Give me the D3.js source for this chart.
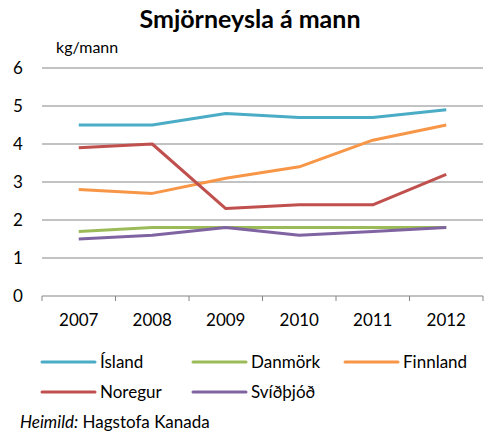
<!DOCTYPE html>
<html>
<head>
<meta charset="utf-8">
<script src="https://cdn.jsdelivr.net/npm/d3@7"></script>
<style>
  body { margin: 0; background: #fff; }
  text { font-family: Lato, "Open Sans", sans-serif; fill: #000; }
</style>
</head>
<body>
<div id="chart"></div>
<script>
const years = ["2007", "2008", "2009", "2010", "2011", "2012"];
const island = [4.5, 4.5, 4.8, 4.7, 4.7, 4.9];
const danmork = [1.7, 1.8, 1.8, 1.8, 1.8, 1.8];
const finnland = [2.8, 2.7, 3.1, 3.4, 4.1, 4.5];
const noregur = [3.9, 4.0, 2.3, 2.4, 2.4, 3.2];
const svithjod = [1.5, 1.6, 1.8, 1.6, 1.7, 1.8];
const yTicks = [0, 1, 2, 3, 4, 5, 6];

const series = [
  {name: "Ísland", values: island, color: "#4BACC6"},
  {name: "Danmörk", values: danmork, color: "#9BBB59"},
  {name: "Finnland", values: finnland, color: "#F79646"},
  {name: "Noregur", values: noregur, color: "#C0504D"},
  {name: "Svíðþjóð", values: svithjod, color: "#8064A2"}
];

const width = 484, height = 433;
const margin = {top: 68, left: 42, right: 1, bottom: 137};
const innerW = width - margin.left - margin.right;
const innerH = height - margin.top - margin.bottom;

const svg = d3.select("#chart").append("svg")
  .attr("width", width)
  .attr("height", height);

svg.append("text")
  .attr("x", 250).attr("y", 28)
  .attr("text-anchor", "middle")
  .style("font-size", "25px").style("font-weight", "bold")
  .text("Smjörneysla á mann");

svg.append("text")
  .attr("x", 56).attr("y", 53)
  .style("font-size", "16px")
  .text("kg/mann");

const bounds = svg.append("g")
  .attr("transform", `translate(${margin.left},${margin.top})`);

const xScale = d3.scaleBand().domain(years).range([0, innerW]);
const yScale = d3.scaleLinear().domain([0, 6]).range([innerH, 0]);

// gridlines
bounds.selectAll(".grid").data(yTicks.filter(d => d > 0)).join("line")
  .attr("x1", 0).attr("x2", innerW)
  .attr("y1", d => yScale(d)).attr("y2", d => yScale(d))
  .attr("stroke", "#868686").attr("stroke-width", 1);

// y labels
svg.selectAll(".ylab").data(yTicks).join("text")
  .attr("x", 18).attr("y", d => margin.top + yScale(d) + 6)
  .attr("text-anchor", "middle")
  .style("font-size", "17px")
  .text(d => d);

// x axis
const xAxis = bounds.append("g")
  .attr("transform", `translate(0,${innerH})`);
xAxis.append("line")
  .attr("x1", 0).attr("x2", innerW)
  .attr("stroke", "#868686");
const edges = years.map(d => xScale(d)).concat([innerW]);
xAxis.selectAll(".tick").data(edges).join("line")
  .attr("x1", d => d).attr("x2", d => d)
  .attr("y1", 0).attr("y2", 5)
  .attr("stroke", "#868686");
xAxis.selectAll(".xlab").data(years).join("text")
  .attr("x", d => xScale(d) + xScale.bandwidth() / 2)
  .attr("y", 30)
  .attr("text-anchor", "middle")
  .style("font-size", "17px")
  .text(d => d);

const line = d3.line()
  .x((d, i) => xScale(years[i]) + xScale.bandwidth() / 2)
  .y(d => yScale(d));

bounds.selectAll(".series").data(series).join("path")
  .attr("fill", "none")
  .attr("stroke", d => d.color)
  .attr("stroke-width", 3)
  .attr("stroke-linejoin", "round")
  .attr("d", d => line(d.values));

// legend
const legendPos = [[42, 362], [193, 362], [345, 362], [42, 392], [193, 392]];
const legend = svg.selectAll(".legend").data(series).join("g")
  .attr("transform", (d, i) => `translate(${legendPos[i][0]},${legendPos[i][1]})`);
legend.append("line")
  .attr("x1", 0).attr("x2", 53)
  .attr("stroke", d => d.color).attr("stroke-width", 3)
  .attr("stroke-linecap", "round");
legend.append("text")
  .attr("x", 58).attr("y", 6)
  .style("font-size", "17px")
  .text(d => d.name);

const foot = svg.append("text")
  .attr("x", 20).attr("y", 428)
  .style("font-size", "17px");
foot.append("tspan").style("font-style", "italic").text("Heimild:");
foot.append("tspan").text(" Hagstofa Kanada");
</script>
</body>
</html>
